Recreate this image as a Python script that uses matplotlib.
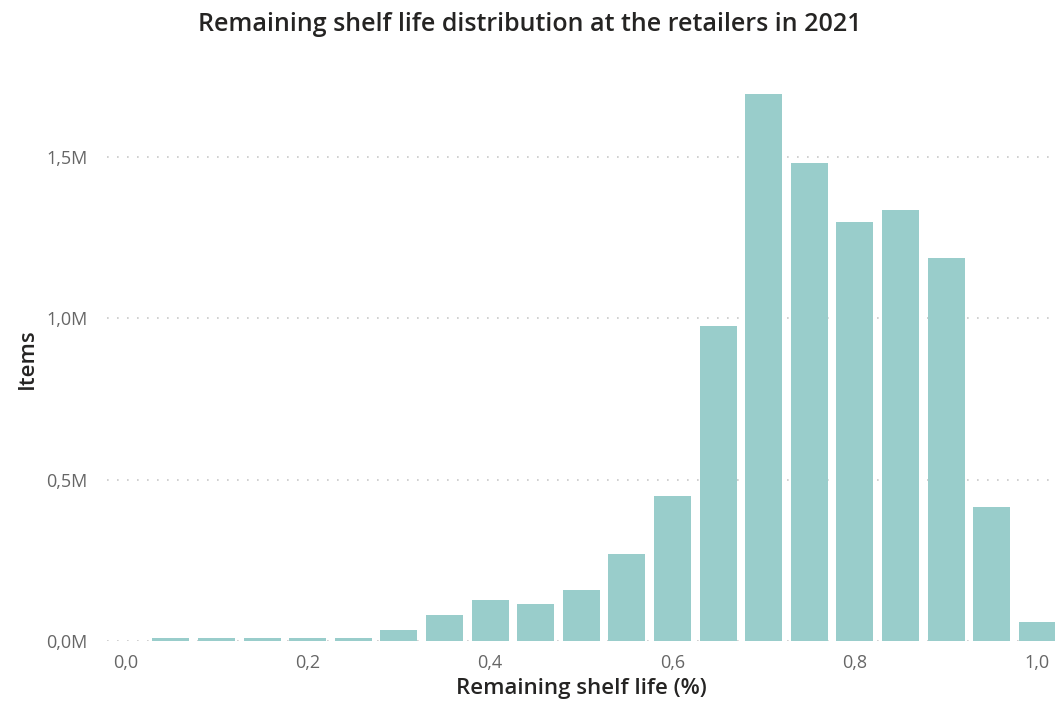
import matplotlib.pyplot as plt
from matplotlib.ticker import FuncFormatter

# remaining shelf life bins and item counts (millions)
shelf_life = [0.05, 0.10, 0.15, 0.20, 0.25, 0.30, 0.35, 0.40, 0.45, 0.50,
              0.55, 0.60, 0.65, 0.70, 0.75, 0.80, 0.85, 0.90, 0.95, 1.00]
items_m = [0.009, 0.009, 0.009, 0.009, 0.009, 0.034, 0.080, 0.127, 0.115, 0.158,
           0.269, 0.449, 0.975, 1.693, 1.480, 1.297, 1.334, 1.186, 0.415, 0.059]
x_ticks = [0.0, 0.2, 0.4, 0.6, 0.8, 1.0]
y_ticks = [0.0, 0.5, 1.0, 1.5]

plt.rcParams['font.family'] = ['Open Sans', 'DejaVu Sans']

fig = plt.figure(figsize=(10.6, 7.09), dpi=100)
ax = fig.add_axes([0.101, 0.0959, 0.894, 0.797])

ax.bar(shelf_life, items_m, width=0.0405, color='#99cdcb', zorder=2)

ax.set_xlim(-0.02, 1.019)
ax.set_ylim(0, 1.75)
ax.set_xticks(x_ticks)
ax.set_yticks(y_ticks)
ax.xaxis.set_major_formatter(FuncFormatter(lambda v, p: f'{v:.1f}'.replace('.', ',')))
ax.yaxis.set_major_formatter(FuncFormatter(lambda v, p: f'{v:.1f}M'.replace('.', ',')))
ax.tick_params(length=0, labelsize=13, labelcolor='#666666')
ax.tick_params(axis='y', pad=14)
ax.tick_params(axis='x', pad=9)

ax.grid(axis='y', linestyle=(0, (1, 5)), color='#c8c8c8', linewidth=1.2, zorder=1)
for s in ax.spines.values():
    s.set_visible(False)

ax.set_xlabel('Remaining shelf life (%)', fontsize=16, fontweight='semibold',
              color='#252423', labelpad=5)
ax.set_ylabel('Items', fontsize=16, fontweight='semibold', color='#252423', labelpad=6)
fig.suptitle('Remaining shelf life distribution at the retailers in 2021',
             fontsize=18, fontweight='semibold', color='#252423', y=0.983)

fig.savefig('out.png', dpi=100)
